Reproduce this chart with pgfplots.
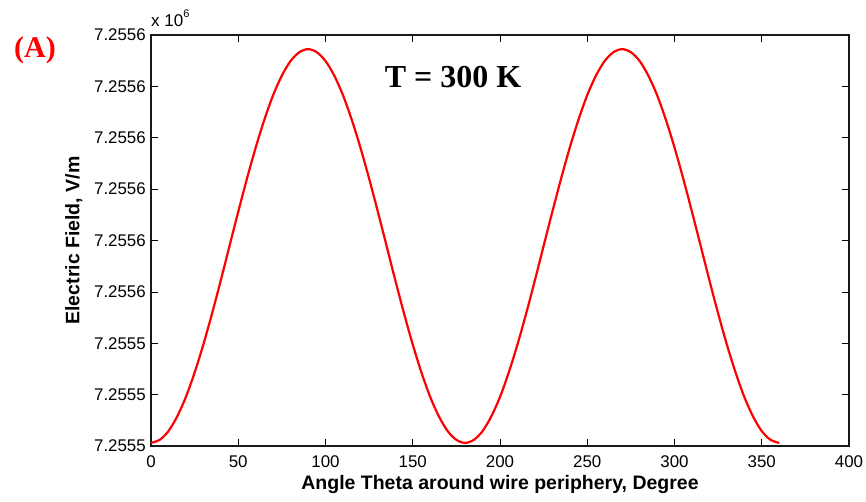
\documentclass[border=0pt]{standalone}
\usepackage{fontspec}
\setmainfont{Liberation Sans}
\newfontfamily\timesfont{Liberation Serif}
\usepackage{pgfplots}
\pgfplotsset{compat=1.18}
\usetikzlibrary{calc}
\begin{document}
\begin{tikzpicture}
\begin{axis}[
  name=ax, scale only axis, width=698pt, height=411pt,
  at={(0,0)}, anchor=south west,
  xmin=0, xmax=400, ymin=0, ymax=16,
  xtick={0,50,...,400}, ytick={0,2,...,16},
  yticklabels={7.2555,7.2555,7.2555,7.2556,7.2556,7.2556,7.2556,7.2556,7.2556},
  tick align=inside, major tick length=7pt,
  tick style={black, line width=0.7pt},
  axis line style={black!90, line width=1.2pt},
  tick label style={font=\fontsize{16.9}{18}\selectfont, inner sep=0pt},
  xticklabel style={yshift=-9pt},
  yticklabel style={xshift=-5pt},
  /pgf/number format/assume math mode=true,
  clip=false,
]
\addplot[red, line width=2.2pt, smooth] coordinates {
(0,0.12) (5,0.24) (10,0.58) (15,1.15) (20,1.91) (25,2.86) (30,3.95) (35,5.16) (40,6.45) (45,7.79)
(50,9.12) (55,10.41) (60,11.62) (65,12.71) (70,13.66) (75,14.42) (80,14.99) (85,15.33) (90,15.45)
(95,15.33) (100,14.99) (105,14.42) (110,13.66) (115,12.71) (120,11.62) (125,10.41) (130,9.12)
(135,7.79) (140,6.45) (145,5.16) (150,3.95) (155,2.86) (160,1.91) (165,1.15) (170,0.58) (175,0.24)
(180,0.12) (185,0.24) (190,0.58) (195,1.15) (200,1.91) (205,2.86) (210,3.95) (215,5.16) (220,6.45)
(225,7.79) (230,9.12) (235,10.41) (240,11.62) (245,12.71) (250,13.66) (255,14.42) (260,14.99)
(265,15.33) (270,15.45) (275,15.33) (280,14.99) (285,14.42) (290,13.66) (295,12.71) (300,11.62)
(305,10.41) (310,9.12) (315,7.79) (320,6.45) (325,5.16) (330,3.95) (335,2.86) (340,1.91) (345,1.15)
(350,0.58) (355,0.24) (360,0.12)
};
\end{axis}
\node[anchor=base, inner sep=0pt, font=\fontsize{19.5}{21}\selectfont\bfseries]
  at ($(ax.south)+(0pt,-43pt)$) {Angle Theta around wire periphery, Degree};
\node[anchor=base, inner sep=0pt, rotate=90, font=\fontsize{19.5}{21}\selectfont\bfseries]
  at ($(ax.west)+(-71.7pt,0pt)$) {Electric Field, V/m};
\node[anchor=base west, inner sep=0pt, font=\fontsize{17}{19}\selectfont]
  at ($(ax.north west)+(0pt,8pt)$) {x 10\raisebox{9pt}{\fontsize{11}{11}\selectfont 6}};
\node[anchor=center, inner sep=0pt, text=red, font=\fontsize{30}{32}\selectfont\timesfont\bfseries]
  at ($(ax.north west)+(-116pt,-15pt)$) {(A)};
\node[anchor=base, inner sep=0pt, font=\fontsize{32}{34}\selectfont\timesfont\bfseries]
  at ($(ax.north west)+(302pt,-53pt)$) {T = 300 K};
\pgfresetboundingbox
\path ($(ax.south west)+(-151pt,-55pt)$) rectangle ++(866pt,501pt);
\end{tikzpicture}
\end{document}
